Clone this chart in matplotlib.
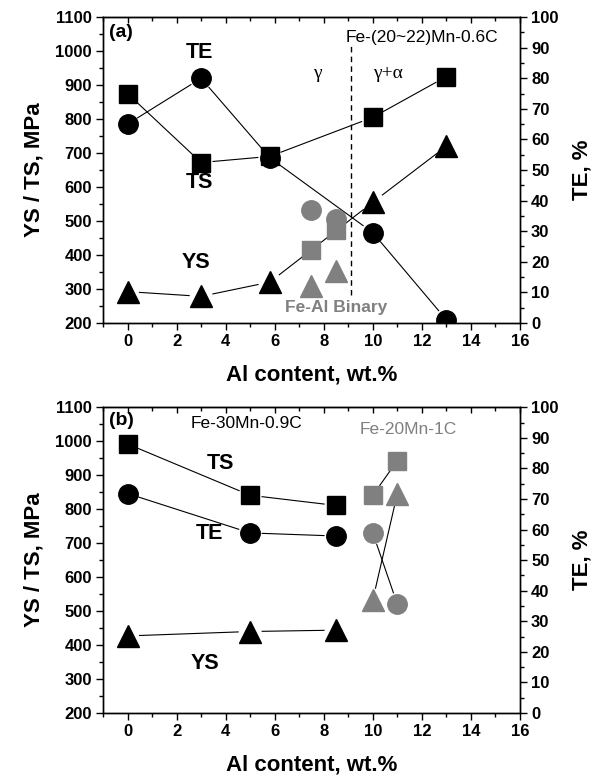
import matplotlib
matplotlib.use("Agg")
import numpy as np
import matplotlib.pyplot as plt
from matplotlib.ticker import MultipleLocator

plt.rcParams["font.family"] = ["Liberation Sans", "DejaVu Sans"]
plt.rcParams["font.weight"] = "bold"
plt.rcParams["axes.labelweight"] = "bold"

GRAY = "#808080"

# (a) Fe-(20~22)Mn-0.6C
al_a = [0, 3, 5.8, 10, 13]
ts_a = [875, 672, 690, 805, 925]
ys_a = [292, 278, 320, 555, 720]
te_a = [65, 80, 54, 29.5, 1]

# (a) Fe-Al binary
al_bin = [7.5, 8.5]
ts_bin = [414, 472]
ys_bin = [310, 354]
te_bin = [37, 34]

# (b) Fe-30Mn-0.9C
al_b = [0, 5, 8.5]
ts_b = [992, 841, 811]
ys_b = [427, 440, 444]
te_b = [71.8, 58.9, 57.9]

# (b) Fe-20Mn-1C
al_c = [10, 11]
ts_c = [841, 943]
ys_c = [533, 846]
te_c = [58.9, 35.6]

phase_boundary = 9.1

MS = {"s": 12.5, "^": 16.5, "o": 14}


def style_axes(ax, ax2):
    ax.set_xlim(-1, 16)
    ax.set_ylim(200, 1100)
    ax2.set_ylim(0, 100)
    ax.xaxis.set_major_locator(MultipleLocator(2))
    ax.xaxis.set_minor_locator(MultipleLocator(1))
    ax.yaxis.set_major_locator(MultipleLocator(100))
    ax.yaxis.set_minor_locator(MultipleLocator(50))
    ax2.yaxis.set_major_locator(MultipleLocator(10))
    ax2.yaxis.set_minor_locator(MultipleLocator(5))
    ax.tick_params(axis="both", which="major", direction="out", length=5,
                   width=1, labelsize=12, top=False, right=False, pad=3)
    ax.tick_params(axis="both", which="minor", direction="out", length=3,
                   width=1, top=False, right=False)
    ax2.tick_params(axis="y", which="major", direction="out", length=5,
                    width=1, labelsize=12, pad=3)
    ax2.tick_params(axis="y", which="minor", direction="out", length=3, width=1)
    # inward ticks along the top edge
    sec = ax.secondary_xaxis("top")
    sec.xaxis.set_major_locator(MultipleLocator(2))
    sec.xaxis.set_minor_locator(MultipleLocator(1))
    sec.tick_params(which="major", direction="in", length=4, width=1,
                    labeltop=False)
    sec.tick_params(which="minor", direction="in", length=3, width=1)
    for sp in list(ax.spines.values()) + list(ax2.spines.values()):
        sp.set_linewidth(1)
    ax.set_xlabel("Al content, wt.%", fontsize=16, labelpad=11)
    ax.set_ylabel("YS / TS, MPa", fontsize=16, labelpad=8)
    ax2.set_ylabel("TE, %", fontsize=16, labelpad=9)


def connect(ax, x, y, gap=12):
    # thin joining lines that stop short of the symbols
    pts = ax.transData.transform(np.column_stack([x, y]))
    inv = ax.transData.inverted()
    for p, q in zip(pts[:-1], pts[1:]):
        u = (q - p) / np.hypot(*(q - p))
        seg = inv.transform(np.array([p + u * gap, q - u * gap]))
        ax.plot(seg[:, 0], seg[:, 1], color="black", lw=0.8, zorder=1)


def symbols(ax, x, y, marker, color, zorder=3):
    ax.plot(x, y, ls="none", marker=marker, ms=MS[marker], color=color,
            mec=color, zorder=zorder)


fig = plt.figure(figsize=(5.97, 7.78), dpi=100)

# ---- panel (a)
ax = fig.add_axes([0.1725, 0.585, 0.6985, 0.393])
ax2 = ax.twinx()
style_axes(ax, ax2)

connect(ax, al_a, ts_a)
connect(ax, al_a, ys_a)
connect(ax2, al_a, te_a)
symbols(ax, al_a, ts_a, "s", "black")
symbols(ax, al_a, ys_a, "^", "black")
symbols(ax2, al_a, te_a, "o", "black")
symbols(ax, al_bin, ts_bin, "s", GRAY, zorder=4)
symbols(ax, al_bin, ys_bin, "^", GRAY, zorder=4)
symbols(ax2, al_bin, te_bin, "o", GRAY, zorder=2)

ax.plot([phase_boundary, phase_boundary], [283, 1020], color="black",
        lw=1, ls=(0, (4, 3)))
ax.text(-0.75, 1056, "(a)", fontsize=14, va="center")
ax.text(12.0, 1040, "Fe-(20~22)Mn-0.6C", fontsize=12.5, fontweight="normal",
        ha="center", va="center")
ax.text(7.75, 935, "γ", fontsize=14, fontweight="normal",
        family="Liberation Serif", ha="center", va="center")
ax.text(10.6, 935, "γ+α", fontsize=14, fontweight="normal",
        family="Liberation Serif", ha="center", va="center")
ax.text(2.95, 997, "TE", fontsize=15.5, ha="center", va="center")
ax.text(2.95, 613, "TS", fontsize=15.5, ha="center", va="center")
ax.text(2.8, 378, "YS", fontsize=15.5, ha="center", va="center")
ax.text(8.5, 244, "Fe-Al Binary", fontsize=12.5, color=GRAY,
        ha="center", va="center")

# ---- panel (b)
bx = fig.add_axes([0.1725, 0.0835, 0.6985, 0.393])
bx2 = bx.twinx()
style_axes(bx, bx2)

for xs, ts, ys, te, col in [(al_b, ts_b, ys_b, te_b, "black"),
                            (al_c, ts_c, ys_c, te_c, GRAY)]:
    connect(bx, xs, ts)
    connect(bx, xs, ys)
    connect(bx2, xs, te)
    symbols(bx, xs, ts, "s", col)
    symbols(bx, xs, ys, "^", col)
    symbols(bx2, xs, te, "o", col)

bx.text(-0.75, 1061, "(b)", fontsize=14, va="center")
bx.text(4.85, 1051, "Fe-30Mn-0.9C", fontsize=12.5, fontweight="normal",
        ha="center", va="center")
bx.text(11.45, 1036, "Fe-20Mn-1C", fontsize=12.5, fontweight="normal",
        color=GRAY, ha="center", va="center")
bx.text(3.8, 934, "TS", fontsize=15.5, ha="center", va="center")
bx.text(3.35, 728, "TE", fontsize=15.5, ha="center", va="center")
bx.text(3.15, 347, "YS", fontsize=15.5, ha="center", va="center")

fig.savefig("out.png", dpi=100)
